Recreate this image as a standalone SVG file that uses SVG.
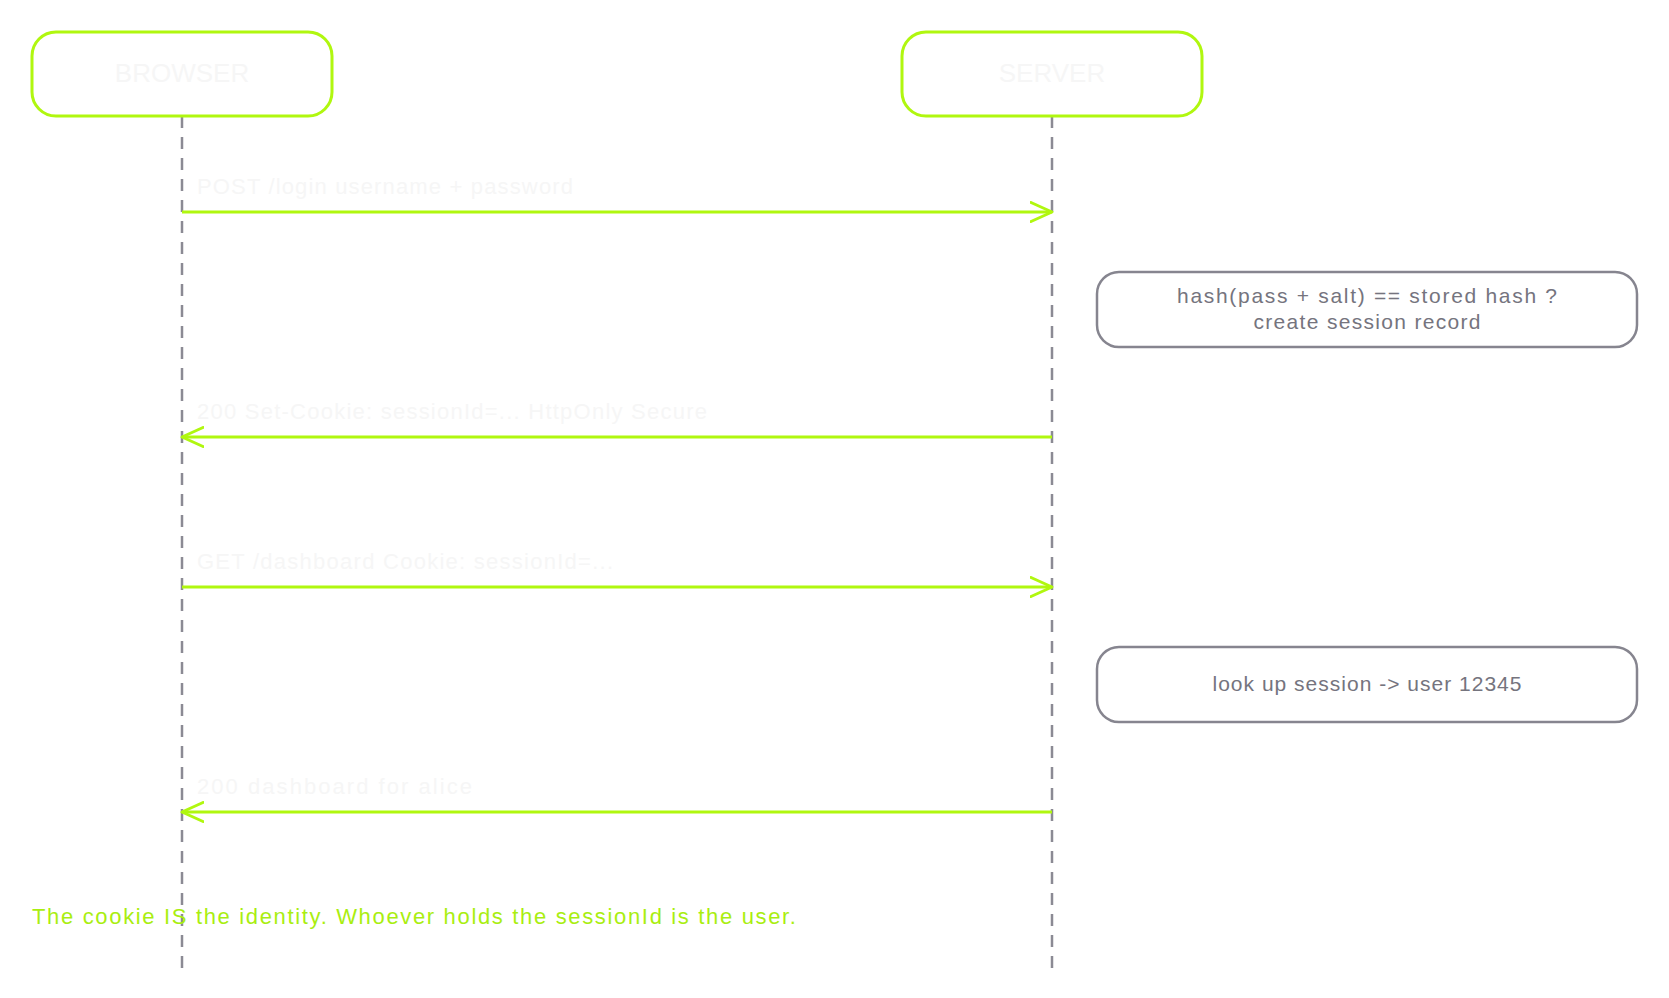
<svg xmlns="http://www.w3.org/2000/svg" width="1669" height="998" viewBox="0 0 1669 998">
<defs>
<style>
.actor{fill:#ffffff;stroke:#b0f70f;stroke-width:3}
.actor-t{font-family:"Liberation Sans",Arial,sans-serif;font-size:26px;fill:#f6f6f6;text-anchor:middle}
.life{stroke:#8b8a94;stroke-width:2.5;stroke-dasharray:12 9;fill:none}
.msg{stroke:#b0f70f;stroke-width:3;fill:none}
.msg-t{font-family:"Liberation Sans",Arial,sans-serif;font-size:22px;fill:#f6f6f6}
.note{fill:#ffffff;stroke:#86858f;stroke-width:2.5}
.note-t{font-family:"Liberation Sans",Arial,sans-serif;font-size:21px;fill:#75747e;text-anchor:middle}
.foot{font-family:"Liberation Sans",Arial,sans-serif;font-size:22px;fill:#a9ee10}
</style>
<marker id="ah" markerWidth="24" markerHeight="22" refX="22" refY="11" orient="auto" markerUnits="userSpaceOnUse">
<path d="M1,1.5 L22,11 L1,20.5" fill="none" stroke="#b0f70f" stroke-width="3" stroke-linecap="round" stroke-linejoin="round"/>
</marker>
</defs>
<rect width="1669" height="998" fill="#ffffff"/>
<g id="lifelines">
<line class="life" x1="182" y1="116" x2="182" y2="968"/>
<line class="life" x1="1052" y1="116" x2="1052" y2="968"/>
</g>
<g id="browser">
<rect class="actor" x="32" y="32" width="300" height="84" rx="24"/>
<text class="actor-t" x="182" y="82">BROWSER</text>
</g>
<g id="server">
<rect class="actor" x="902" y="32" width="300" height="84" rx="24"/>
<text class="actor-t" x="1052" y="82">SERVER</text>
</g>
<g id="connectors">
<line class="msg" x1="182" y1="212" x2="1052" y2="212" marker-end="url(#ah)"/>
<text class="msg-t" x="197" y="194" textLength="376">POST /login username + password</text>
<line class="msg" x1="1052" y1="437" x2="182" y2="437" marker-end="url(#ah)"/>
<text class="msg-t" x="197" y="419" textLength="510">200 Set-Cookie: sessionId=... HttpOnly Secure</text>
<line class="msg" x1="182" y1="587" x2="1052" y2="587" marker-end="url(#ah)"/>
<text class="msg-t" x="197" y="569" textLength="416">GET /dashboard Cookie: sessionId=...</text>
<line class="msg" x1="1052" y1="812" x2="182" y2="812" marker-end="url(#ah)"/>
<text class="msg-t" x="197" y="794" textLength="275">200 dashboard for alice</text>
</g>
<g id="note1">
<rect class="note" x="1097" y="272" width="540" height="75" rx="22"/>
<text class="note-t" x="1367" y="303" textLength="380">hash(pass + salt) == stored hash ?</text>
<text class="note-t" x="1367" y="329" textLength="227">create session record</text>
</g>
<g id="note2">
<rect class="note" x="1097" y="647" width="540" height="75" rx="22"/>
<text class="note-t" x="1367" y="691" textLength="309">look up session -&gt; user 12345</text>
</g>
<g id="footnote">
<text class="foot" x="32" y="924" textLength="764">The cookie IS the identity. Whoever holds the sessionId is the user.</text>
</g>
</svg>
